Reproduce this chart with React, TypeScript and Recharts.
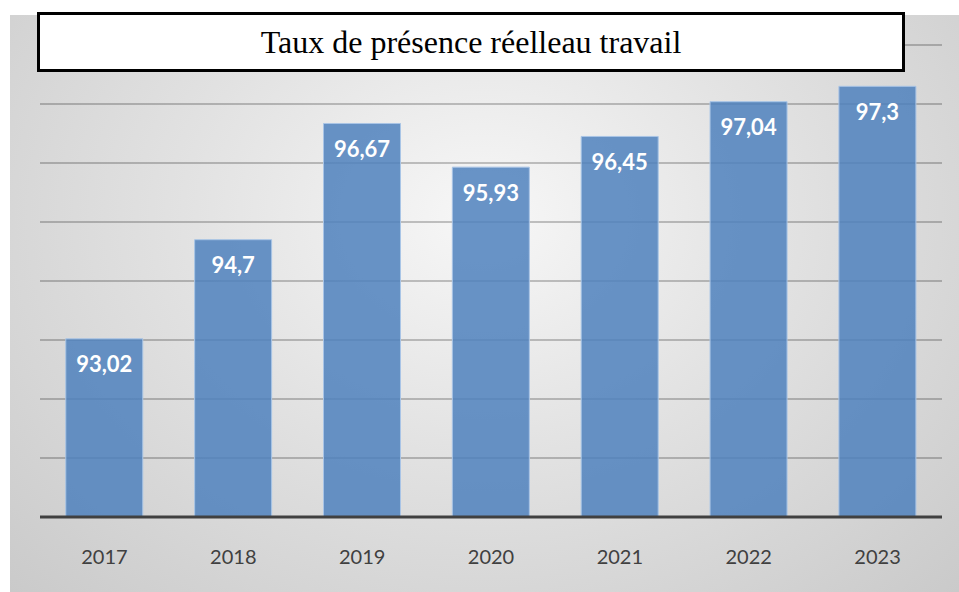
import { BarChart, Bar, XAxis, YAxis, CartesianGrid, LabelList } from 'recharts';

const years = ['2017', '2018', '2019', '2020', '2021', '2022', '2023'];
const rates = [93.02, 94.7, 96.67, 95.93, 96.45, 97.04, 97.3];
const yTicks = [90, 91, 92, 93, 94, 95, 96, 97, 98];

const data = years.map((year, i) => ({ year, rate: rates[i] }));

const fmt = (v: any) => String(v).replace('.', ',');

function YearTick(props: any) {
  const { x, y, payload } = props;
  return (
    <text
      x={x}
      y={y + 39}
      textAnchor="middle"
      fill="#404040"
      fontSize={20}
      fontFamily="Lato, Calibri, sans-serif"
    >
      {payload.value}
    </text>
  );
}

export default function App() {
  return (
    <div style={{ position: 'absolute', left: 0, top: 0, width: 959, height: 592, background: '#fff' }}>
      {/* gray gradient panel behind the chart */}
      <div
        style={{
          position: 'absolute',
          left: 10,
          top: 15,
          width: 949,
          height: 577,
          background: 'radial-gradient(ellipse at 50% 35%, #f7f7f7 0%, #e2e2e2 45%, #cacaca 100%)',
        }}
      />
      <div style={{ position: 'absolute', left: 0, top: 0 }}>
        <BarChart
          width={959}
          height={592}
          data={data}
          margin={{ top: 45, right: 17, bottom: 0, left: 40 }}
          barCategoryGap="20%"
        >
          <CartesianGrid vertical={false} stroke="rgba(0,0,0,0.22)" strokeWidth={2} />
          <YAxis hide domain={[90, 98]} ticks={yTicks} />
          <XAxis
            dataKey="year"
            height={75}
            tickLine={false}
            axisLine={{ stroke: '#404040', strokeWidth: 3 }}
            tick={<YearTick />}
            interval={0}
          />
          <Bar
            dataKey="rate"
            fill="#4f81bd"
            fillOpacity={0.85}
            stroke="#a9c5e6"
            strokeWidth={1}
            isAnimationActive={false}
          >
            <LabelList
              dataKey="rate"
              position="insideTop"
              offset={18}
              formatter={fmt}
              fill="#ffffff"
              fontSize={22}
              fontWeight="bold"
              fontFamily="Lato, Calibri, sans-serif"
            />
          </Bar>
        </BarChart>
      </div>
      {/* title box */}
      <div
        style={{
          position: 'absolute',
          left: 37,
          top: 12,
          width: 862,
          height: 54,
          border: '3px solid #000',
          background: '#fff',
          display: 'flex',
          alignItems: 'center',
          justifyContent: 'center',
          fontFamily: '"Liberation Serif", "Times New Roman", serif',
          fontSize: 32,
          color: '#000',
        }}
      >
        Taux de présence réelleau travail
      </div>
    </div>
  );
}
